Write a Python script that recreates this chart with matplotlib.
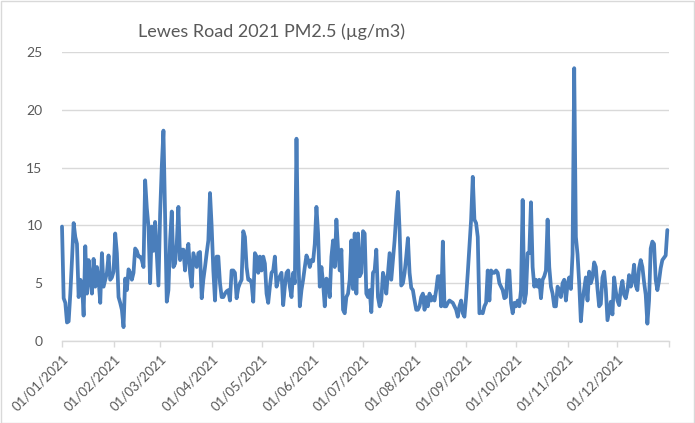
import numpy as np
import pandas as pd
import matplotlib
matplotlib.use("Agg")
import matplotlib.pyplot as plt
import matplotlib.dates as mdates
from matplotlib.patches import Rectangle

# ── Data: daily PM2.5 (ug/m3), Lewes Road 2021 ─────────────────────────────────
jan = [9.9, 3.7, 3.3, 1.6, 1.7, 4.1, 7.0, 10.2, 9.0, 8.4, 3.8, 5.3, 5.0, 2.2, 8.2, 4.1,
       7.0, 5.3, 4.1, 7.1, 4.7, 6.4, 5.3, 3.3, 7.6, 4.7, 5.3, 5.9, 7.4, 5.3, 5.5]
feb = [6.0, 9.3, 7.6, 3.8, 3.3, 2.7, 1.2, 5.4, 4.4, 6.2, 5.9, 5.3, 5.9, 8.0, 7.8, 7.3,
       7.3, 7.0, 6.4, 13.9, 11.5, 9.9, 5.0, 9.9, 7.8, 10.3, 7.5, 4.8]
mar = [11.0, 15.1, 18.2, 10.7, 3.4, 4.4, 8.7, 11.2, 6.4, 6.7, 8.4, 11.6, 7.0, 7.9, 7.9, 6.1,
       7.6, 8.4, 5.9, 4.7, 7.6, 7.0, 6.4, 7.6, 7.7, 3.7, 5.3, 6.4, 7.6, 8.7, 12.8]
apr = [9.9, 6.1, 3.5, 7.3, 7.3, 5.0, 3.8, 3.8, 4.1, 4.3, 4.4, 3.5, 6.1, 6.1, 5.9, 3.7,
       4.6, 5.0, 5.3, 9.5, 9.0, 6.4, 5.3, 5.3, 5.0, 3.4, 7.6, 7.3, 5.9, 7.3]
may = [6.1, 7.3, 6.7, 4.1, 3.3, 4.7, 5.9, 6.1, 7.3, 4.7, 5.3, 5.6, 5.9, 3.1, 4.7, 5.9,
       6.1, 4.7, 3.8, 5.9, 5.0, 17.5, 8.0, 3.0, 4.4, 5.3, 6.4, 7.4, 7.0, 6.4, 7.0]
jun = [6.9, 8.4, 11.6, 9.3, 4.7, 6.4, 5.0, 3.0, 5.4, 5.1, 3.8, 7.3, 8.7, 6.4, 10.5, 7.9,
       6.1, 7.9, 2.7, 2.4, 3.8, 4.1, 5.3, 8.7, 4.5, 9.3, 4.1, 9.3, 5.6, 5.9]
jul = [9.5, 9.3, 4.1, 3.8, 4.4, 2.5, 5.9, 6.1, 7.9, 3.8, 3.0, 3.5, 5.9, 5.3, 4.1, 5.9,
       7.6, 5.3, 7.0, 8.7, 11.0, 12.9, 9.6, 4.8, 5.0, 5.9, 7.3, 8.9, 5.9, 4.6, 4.4]
aug = [3.5, 2.7, 2.7, 3.0, 3.8, 4.1, 2.7, 3.8, 3.0, 4.1, 3.5, 3.8, 3.5, 4.4, 5.6, 5.6,
       3.0, 8.6, 3.0, 3.0, 3.3, 3.5, 3.4, 3.3, 3.0, 2.7, 2.1, 3.0, 3.5, 2.4, 2.1]
sep = [3.8, 5.9, 8.2, 10.5, 14.2, 10.5, 10.2, 9.0, 2.4, 2.5, 2.4, 3.0, 3.3, 6.1, 3.5, 6.1,
       5.9, 5.9, 6.1, 5.9, 5.0, 4.7, 4.4, 3.7, 3.8, 6.1, 6.1, 3.3, 2.4, 3.3]
oct_ = [3.0, 3.5, 3.0, 4.4, 12.2, 3.3, 4.1, 7.6, 7.6, 12.0, 6.4, 4.7, 5.3, 4.7, 5.3, 3.7,
        5.3, 5.6, 6.1, 10.5, 6.4, 4.7, 4.1, 3.0, 3.0, 4.7, 4.4, 3.8, 5.0, 5.3, 3.5]
nov = [4.9, 5.5, 4.5, 7.5, 23.6, 9.0, 7.5, 5.0, 1.7, 3.5, 4.5, 5.5, 3.5, 6.0, 5.0, 5.5,
       6.8, 6.4, 4.5, 3.0, 3.2, 5.5, 6.0, 4.5, 1.8, 2.6, 3.4, 2.3, 5.5, 4.3]
dec = [3.5, 3.1, 4.5, 5.2, 4.0, 3.7, 4.4, 5.7, 4.7, 5.3, 6.6, 4.8, 4.4, 6.3, 7.0, 6.4,
       5.1, 4.0, 1.5, 3.5, 8.0, 8.6, 8.4, 5.3, 4.4, 5.2, 6.3, 7.0, 7.2, 7.4, 9.6]

pm25 = jan + feb + mar + apr + may + jun + jul + aug + sep + oct_ + nov + dec
dates = pd.date_range("2021-01-01", periods=len(pm25), freq="D")

y_ticks = [0, 5, 10, 15, 20, 25]
title = "Lewes Road 2021 PM2.5 (\u00b5g/m3)"

# ── Style ──────────────────────────────────────────────────────────────────────
BLUE = "#4A7EBB"
GRID = "#D9D9D9"
TEXT = "#595959"

plt.rcParams["font.family"] = ["Lato", "DejaVu Sans"]

fig = plt.figure(figsize=(6.95, 4.23), dpi=100)
ax = fig.add_axes([62 / 695, 82 / 423, 607 / 695, 289 / 423])

ax.plot(dates, pm25, color=BLUE, linewidth=2.7, solid_joinstyle="round",
        solid_capstyle="round", zorder=3, clip_on=False)

ax.set_ylim(0, 25)
ax.set_yticks(y_ticks)
ax.set_xlim(pd.Timestamp("2021-01-01"), pd.Timestamp("2022-01-01"))

months = pd.date_range("2021-01-01", "2021-12-01", freq="MS")
ax.set_xticks(months)
ax.set_xticklabels([d.strftime("%d/%m/%Y") for d in months])
ax.set_xticks([pd.Timestamp("2022-01-01")], minor=True)

ax.grid(axis="y", color=GRID, linewidth=1.0)
ax.set_axisbelow(True)
for side in ["top", "right", "left"]:
    ax.spines[side].set_visible(False)
ax.spines["bottom"].set_color(GRID)
ax.spines["bottom"].set_linewidth(1.0)

ax.tick_params(axis="y", length=0, pad=14, labelsize=10, labelcolor=TEXT)
ax.tick_params(axis="x", which="both", length=4.5, width=1.0, color=GRID,
               direction="out", pad=4, labelsize=9.5, labelcolor=TEXT)
for lab in ax.get_xticklabels():
    lab.set_rotation(45)
    lab.set_ha("right")
    lab.set_va("top")
    lab.set_rotation_mode("anchor")

fig.text(271 / 695, 1 - 32 / 423, title, ha="center", va="center",
         fontsize=13, color=TEXT)

# outer chart border
fig.patches.append(Rectangle((0.5 / 695, 0.5 / 423), 693.5 / 695, 421.5 / 423,
                             transform=fig.transFigure, fill=False,
                             edgecolor=GRID, linewidth=1.0))

fig.savefig("out.png", dpi=100, facecolor="white")
